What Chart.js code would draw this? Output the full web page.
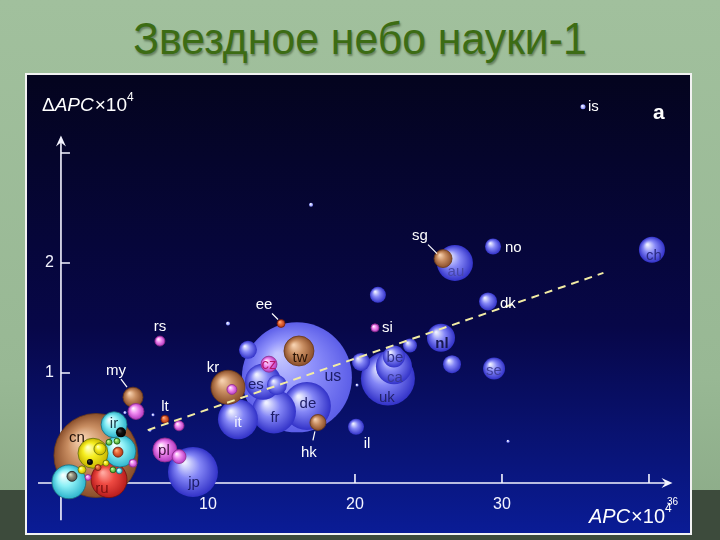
<!DOCTYPE html>
<html>
<head>
<meta charset="utf-8">
<script src="https://cdn.jsdelivr.net/npm/chart.js@4"></script>
<style>
  html, body { margin: 0; padding: 0; }
  body {
    width: 720px; height: 540px; overflow: hidden; position: relative;
    background: linear-gradient(180deg, #a1c09d 0%, #98b894 70%, #8aa986 100%);
    font-family: "Liberation Sans", Arial, sans-serif;
  }
  #title {
    position: absolute; left: 0; top: 13px; width: 720px; text-align: center;
    font-size: 45px; color: #3c6c14;
    transform: scaleX(0.95);
    text-shadow: 1px 2px 2px rgba(30, 50, 20, 0.45);
  }
  #band { position: absolute; left: 0; top: 490px; width: 720px; height: 50px; background: #3d4b3c; }
  #frame {
    position: absolute; left: 25px; top: 73px; width: 663px; height: 458px;
    border: 2px solid #f2f2f2;
  }
  canvas { display: block; }
</style>
</head>
<body>
<div id="title">Звездное небо науки-1</div>
<div id="band"></div>
<div id="frame"><canvas id="sky" width="663" height="458"></canvas></div>
<script>
// страны (порядок = порядок отрисовки, большие сначала)
const countries = ["us", "cn", "uk", "jp", "de", "fr", "it", "es", "ca", "au", "kr", "ru", "", "", "ir", "",
    "nl", "tw", "ch", "be", "se", "pl", "no", "dk", "sg", "my", "hk", "il",
    "", "", "", "", "", "", "cz", "", "", "", "", "",
    "ee", "lt", "rs", "si", "", "is",
    "", "", "", "", "", "", "",
    "", "", "", "", "", "", "", "", "", "", "", ""];
// APC x 10^4
const apc = [16.05, 2.38, 22.24, 8.98, 16.73, 14.49, 12.04, 13.74, 22.65, 26.80, 11.36, 3.27, 0.54, 4.01, 3.61, 2.18,
    25.85, 16.19, 40.20, 22.65, 29.46, 7.07, 29.39, 29.05, 25.99, 4.90, 17.48, 20.07,
    12.72, 14.69, 20.41, 21.56, 23.74, 26.60, 14.15, 5.10, 8.03, 4.90, 11.63, 4.08,
    14.97, 7.07, 6.73, 21.36, 8.03, 35.51,
    17.01, 30.41, 11.36, 20.14, 4.35, 6.26, 6.05,
    2.65, 3.88, 3.81, 3.54, 3.97, 1.97, 1.43, 0.75, 2.52, 3.06, 1.84, 3.27];
// ΔAPC x 10^4
const dApc = [0.96, 0.25, 0.95, 0.10, 0.70, 0.65, 0.58, 0.92, 1.06, 2.00, 0.87, 0.03, 0.01, 0.29, 0.53, 0.27,
    1.32, 1.20, 2.12, 1.15, 1.04, 0.30, 2.15, 1.65, 2.04, 0.78, 0.55, 0.51,
    1.21, 0.89, 1.10, 1.71, 1.25, 1.08, 1.08, 0.65, 0.24, 0.18, 0.85, 0.46,
    1.45, 0.58, 1.29, 1.41, 0.52, 3.42,
    2.53, 0.38, 1.45, 0.89, 0.64, 0.62, 0.48,
    0.31, 0.28, 0.38, 0.12, 0.11, 0.19, 0.12, 0.06, 0.14, 0.18, 0.05, 0.37];
// размер пузырька (число статей)
const size = [55, 42, 27, 25, 24, 22, 20, 18, 18, 18, 17, 18, 17, 16, 13, 15,
    14, 15, 13, 11, 11, 12, 8, 9, 9, 10, 8, 8,
    9, 10, 9, 8, 7, 9, 8, 8, 7, 4, 5, 5,
    4, 4, 5, 4, 5, 2.5,
    2, 1.5, 2, 1.5, 1.5, 1.5, 1.5,
    6, 5, 3, 3, 3, 3, 4, 5, 3, 3, 3, 3];
// группа (цвет)
const kind = ["L", "o", "b", "b", "b", "b", "b", "b", "b", "b", "o", "r", "c", "c", "c", "y",
    "b", "o", "b", "b", "b", "p", "b", "b", "o", "o", "o", "b",
    "b", "b", "b", "b", "b", "b", "p", "p", "p", "p", "p", "k",
    "e", "e", "p", "p", "p", "w",
    "w", "w", "w", "w", "w", "w", "w",
    "y", "e", "g", "g", "c", "k", "y", "s", "e", "y", "p", "g"];

// линия тренда
const trendX = [5.9, 36.9];
const trendY = [0.48, 1.91];

// оси
const xTicks = [10, 20, 30, 40];
const xTickLabels = ["10", "20", "30", ""];
const yTicks = [1, 2, 3];
const yTickLabels = ["1", "2", ""];

const palette = {
    L: ["#c4c6ff", "#8e90fb", "#5c5ee8", null],
    b: ["#eef0ff", "#8486f6", "#3232c8", null],
    o: ["#f6d0ae", "#c98e62", "#8a4e2a", "#6a3a1a"],
    p: ["#fff0ff", "#f08cf0", "#b438c0", "#90308a"],
    c: ["#f2ffff", "#8cf0f6", "#2cb4cc", "#206878"],
    r: ["#ffa8a0", "#ee4a42", "#b81c1c", "#701010"],
    y: ["#ffffc0", "#f6ee20", "#c8b400", "#607010"],
    g: ["#d8ffb0", "#88d860", "#3c9a30", "#206010"],
    e: ["#ffb080", "#e86a3a", "#b03818", "#702010"],
    k: ["#505050", "#101010", "#000000", null],
    s: ["#e0e0c0", "#909080", "#505048", "#202020"],
    w: ["#ffffff", "#c8ccff", "#8088ff", null]
};

function fillFor(ctx) {
    const chart = ctx.chart;
    const i = ctx.dataIndex;
    const xs = chart.scales.x, ys = chart.scales.y;
    const col = palette[kind[i]] || palette.b;
    if (!xs || !ys || ctx.type !== "data") return col[1];
    const cx = xs.getPixelForValue(apc[i]);
    const cy = ys.getPixelForValue(dApc[i]);
    const r = size[i];
    if (!isFinite(cx) || !isFinite(cy)) return col[1];
    const g = chart.ctx.createRadialGradient(cx - r * 0.35, cy - r * 0.4, r * 0.05, cx, cy, r);
    g.addColorStop(0, col[0]);
    g.addColorStop(0.45, col[1]);
    g.addColorStop(1, col[2]);
    return g;
}

// подписи: смещение от центра, выравнивание, цвет, размер
const labelStyle = {
    us: [36, -1, "center", "#1c1c66", 16],
    cn: [-19, -18, "center", "#201008", 15],
    uk: [-1, 19, "center", "#22226a", 15],
    jp: [1, 11, "center", "#1c1c66", 15],
    de: [1, -2, "center", "#1c1c66", 15],
    fr: [1, 6, "center", "#1c1c66", 15],
    it: [0, 4, "center", "#eef0ff", 15],
    es: [-7, 3, "center", "#1c1c66", 15],
    ca: [1, 11, "center", "#3a3a96", 15],
    au: [1, 9, "center", "#4848a8", 15],
    kr: [-15, -19, "center", "#ffffff", 15],
    ru: [-7, 9, "center", "#7a1010", 15],
    ir: [0, -1, "center", "#1a3a48", 15],
    nl: [1, 6, "center", "#181850", 15, "bold"],
    tw: [1, 7, "center", "#2a1406", 15],
    ch: [2, 6, "center", "#2a2a80", 15],
    be: [1, 1, "center", "#32328a", 15],
    se: [0, 2, "center", "#40409a", 15],
    pl: [-1, 1, "center", "#401040", 15],
    no: [12, 1, "left", "#ffffff", 15],
    dk: [12, 2, "left", "#ffffff", 15],
    sg: [-23, -23, "center", "#ffffff", 15],
    my: [-17, -26, "center", "#ffffff", 15],
    hk: [-9, 30, "center", "#ffffff", 15],
    il: [11, 17, "center", "#ffffff", 15],
    cz: [0, 1, "center", "#b8186c", 15],
    ee: [-17, -19, "center", "#ffffff", 15],
    lt: [0, -12, "center", "#ffffff", 15],
    rs: [0, -14, "center", "#ffffff", 15],
    si: [7, 0, "left", "#ffffff", 15],
    is: [5, 0, "left", "#ffffff", 15]
};
const leaders = {
    sg: [-15, -14, -6, -5],
    my: [-12, -18, -6, -10],
    hk: [-3, 9, -5, 18],
    ee: [-9, -10, -3, -4]
};

const backdrop = {
    id: "backdrop",
    beforeDraw(chart) {
        const c = chart.ctx;
        const g = c.createLinearGradient(0, 0, 0, chart.height);
        g.addColorStop(0, "#04041e");
        g.addColorStop(0.55, "#070748");
        g.addColorStop(1, "#0a1c96");
        c.save();
        c.fillStyle = g;
        c.fillRect(0, 0, chart.width, chart.height);
        c.restore();
    }
};

function arrow(c, x, y, dx, dy) {
    // dx,dy - направление
    const px = -dy, py = dx;
    c.beginPath();
    c.moveTo(x, y);
    c.lineTo(x - dx * 11 + px * 5, y - dy * 11 + py * 5);
    c.lineTo(x - dx * 7, y - dy * 7);
    c.lineTo(x - dx * 11 - px * 5, y - dy * 11 - py * 5);
    c.closePath();
    c.fill();
}

const axesPlugin = {
    id: "axesPlugin",
    beforeDatasetsDraw(chart) {
        const c = chart.ctx;
        const xs = chart.scales.x, ys = chart.scales.y;
        const x0 = xs.getPixelForValue(0), y0 = ys.getPixelForValue(0);
        c.save();
        c.strokeStyle = "#f4f4ff";
        c.fillStyle = "#f4f4ff";
        c.lineWidth = 1.6;
        c.beginPath();
        c.moveTo(x0, ys.getPixelForValue(-0.34));
        c.lineTo(x0, ys.getPixelForValue(3.16) + 4);
        c.moveTo(xs.getPixelForValue(-1.56), y0);
        c.lineTo(xs.getPixelForValue(41.6) - 4, y0);
        c.stroke();
        arrow(c, x0, ys.getPixelForValue(3.16), 0, -1);
        arrow(c, xs.getPixelForValue(41.6), y0, 1, 0);

        c.font = "16px 'Liberation Sans', Arial, sans-serif";
        c.textBaseline = "middle";
        c.beginPath();
        xTicks.forEach((t) => {
            const px = xs.getPixelForValue(t);
            c.moveTo(px, y0);
            c.lineTo(px, y0 - 9);
        });
        yTicks.forEach((t) => {
            const py = ys.getPixelForValue(t);
            c.moveTo(x0, py);
            c.lineTo(x0 + 9, py);
        });
        c.stroke();
        c.textAlign = "center";
        xTicks.forEach((t, k) => {
            c.fillText(xTickLabels[k], xs.getPixelForValue(t), y0 + 22);
        });
        c.textAlign = "right";
        yTicks.forEach((t, k) => {
            c.fillText(yTickLabels[k], x0 - 7, ys.getPixelForValue(t));
        });
        c.restore();
    },
    afterDraw(chart) {
        const c = chart.ctx;
        c.save();
        c.fillStyle = "#ffffff";
        c.textBaseline = "alphabetic";
        c.textAlign = "left";
        const parts = (x, y, fs, items) => {
            items.forEach(([txt, style, dy, f]) => {
                c.font = style + " " + (f || fs) + "px 'Liberation Sans', Arial, sans-serif";
                c.fillText(txt, x, y + dy);
                x += c.measureText(txt).width + (style === "italic" ? 1 : 0);
            });
        };
        // координаты внутри canvas (рамка начинается в 27,75)
        parts(15, 36, 19, [["Δ", "normal", 0], ["APC", "italic", 0], ["×10", "normal", 0], ["4", "normal", -10, 12]]);
        parts(562, 448, 20, [["APC", "italic", 0], ["×10", "normal", 0], ["4", "normal", -11, 12]]);
        c.font = "bold 21px 'Liberation Sans', Arial, sans-serif";
        c.fillText("a", 626, 44);
        c.font = "10px 'Liberation Sans', Arial, sans-serif";
        c.fillText("36", 640, 430);
        c.restore();
    }
};

const labelsPlugin = {
    id: "labelsPlugin",
    afterDatasetsDraw(chart) {
        const c = chart.ctx;
        const meta = chart.getDatasetMeta(1);
        c.save();
        c.textBaseline = "middle";
        meta.data.forEach((el, i) => {
            const name = countries[i];
            const st = labelStyle[name];
            if (!name || !st) return;
            c.font = (st[5] || "normal") + " " + st[4] + "px 'Liberation Sans', Arial, sans-serif";
            c.fillStyle = st[3];
            c.textAlign = st[2];
            c.fillText(name, el.x + st[0], el.y + st[1]);
            const ld = leaders[name];
            if (ld) {
                c.strokeStyle = "#ffffff";
                c.lineWidth = 1.2;
                c.beginPath();
                c.moveTo(el.x + ld[0], el.y + ld[1]);
                c.lineTo(el.x + ld[2], el.y + ld[3]);
                c.stroke();
            }
        });
        c.restore();
    }
};

const bubbles = countries.map((n, i) => ({ x: apc[i], y: dApc[i], r: size[i] }));
const trend = trendX.map((x, i) => ({ x: x, y: trendY[i] }));

new Chart(document.getElementById("sky"), {
    data: {
        datasets: [
            {
                type: "line",
                data: trend,
                borderColor: "#f2eca4",
                borderWidth: 2,
                borderDash: [8, 6],
                pointRadius: 0,
                order: 0
            },
            {
                type: "bubble",
                data: bubbles,
                backgroundColor: fillFor,
                borderColor: (ctx) => (palette[kind[ctx.dataIndex]] || palette.b)[3] || "rgba(0,0,0,0)",
                borderWidth: (ctx) => (palette[kind[ctx.dataIndex]] || palette.b)[3] ? 0.8 : 0,
                order: 1
            }
        ]
    },
    options: {
        responsive: false,
        animation: false,
        events: [],
        layout: { padding: 0, autoPadding: false },
        plugins: {
            legend: { display: false },
            tooltip: { enabled: false }
        },
        scales: {
            x: { type: "linear", min: -2.31, max: 42.79, display: false },
            y: { type: "linear", min: -0.455, max: 3.709, display: false }
        }
    },
    plugins: [backdrop, axesPlugin, labelsPlugin]
});
</script>
</body>
</html>
